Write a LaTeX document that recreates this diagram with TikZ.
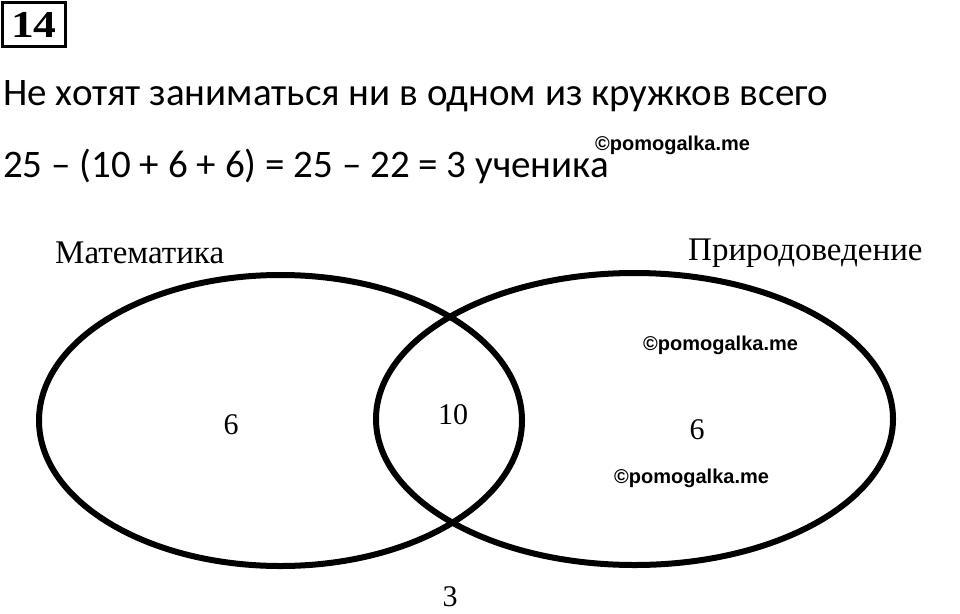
\documentclass[tikz,border=0pt]{standalone}
\usepackage{fontspec}
\usepackage{graphicx}
\setmainfont{Liberation Serif}
\newfontfamily\calibri{Carlito}
\newfontfamily\arialfont{Liberation Sans}
\usepackage{tikz}

\begin{document}
\begin{tikzpicture}[x=1pt,y=-1pt,
	venn/.style={line width=6pt},
	txt/.style={anchor=base west,inner sep=0pt,font=\calibri\fontsize{39}{39}\selectfont},
	wmark/.style={anchor=base west,inner sep=0pt,font=\arialfont\bfseries\fontsize{20}{20}\selectfont},
	lbl/.style={anchor=base west,inner sep=0pt,font=\fontsize{33}{33}\selectfont},
	num/.style={inner sep=0pt,font=\fontsize{30}{30}\selectfont}]
		\useasboundingbox (0,0) rectangle (960,613);
		
		\node[draw,line width=3pt,minimum width=63pt,minimum height=44pt,inner sep=0pt,
			font=\bfseries\fontsize{38}{38}\selectfont] (task) at (34,24.5) {\scalebox{1.2}[1]{14}};
		
		\node[txt] (line1) at (3,105) {Не хотят заниматься ни в одном из кружков всего};
		\node[txt] (line2) at (3,177) {25 – (10 + 6 + 6) = 25 – 22 = 3 ученика};
		\node[wmark] (wm1) at (595,150) {©pomogalka.me};
		
		\coordinate (M) at (280.5,420.5);
		\coordinate (P) at (634.5,419);
		\draw[venn] (M) ellipse (241.5 and 145.5);
		\draw[venn] (P) ellipse (258.5 and 146);
		
		\node[lbl] (Mlabel) at (55,263) {Математика};
		\node[lbl] (Plabel) at (688,260) {Природоведение};
		
		\node[num] (Monly) at (231,425) {6};
		\node[num] (MP) at (453,414.5) {10};
		\node[num] (Ponly) at (697,430) {6};
		\node[num] (none) at (450,597) {3};
		
		\node[wmark] (wm2) at (643,350) {©pomogalka.me};
		\node[wmark] (wm3) at (614,483) {©pomogalka.me};
\end{tikzpicture}
\end{document}
